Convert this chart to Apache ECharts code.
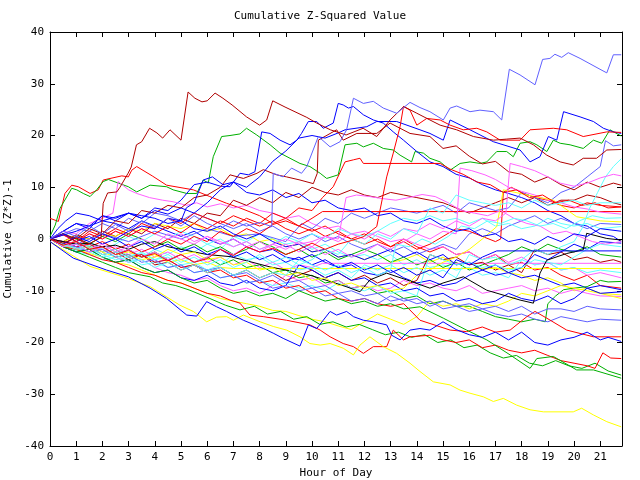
<!DOCTYPE html>
<html>
<head>
<meta charset="utf-8">
<script src="https://cdn.jsdelivr.net/npm/echarts@6/dist/echarts.min.js"></script>
<style>
  html, body { margin: 0; padding: 0; background: #fff; }
  .main { width: 640px; height: 480px; }
</style>
</head>
<body>
<div class="main"></div>
<script>
// hour of day, cumulative (z*z)-1 ; one array per sensor trace
var dr1 = [[0,0],[0.5,-0.8],[1,0.2],[1.5,-0.9],[1.95,0.3],[2.03,6.9],[2.2,8.9],[2.55,9.1],[2.67,10],[2.98,12.7],[3.1,13.9],[3.3,18.2],[3.5,18.8],[3.8,21.4],[4.08,20.5],[4.3,19.5],[4.58,21.1],[5.0,19.1],[5.27,28.4],[5.53,27.2],[5.8,26.5],[6.0,26.7],[6.3,28.2],[6.6,27.2],[6.95,25.9],[7.5,23.6],[8.0,22.0],[8.27,23.0],[8.5,26.7],[8.97,25.5],[9.8,23.5],[10.18,22.4],[10.7,21.1],[11.3,20.1],[11.95,21.4],[12.47,19.8],[12.98,23],[13.5,25.6],[14,24.3],[14.5,23],[14.89,22.0],[15.52,21.1],[16.16,19.8],[16.92,19.1],[17.43,19.3],[17.94,19.5],[18.45,18.2],[18.96,16.2],[19.47,14.9],[19.97,14.3],[20.35,15.6],[20.86,15.6],[21.25,17.2],[21.8,17.3]];
var dr2 = [[0,0],[0.5,1],[1,0],[1.5,2],[2,1],[2.5,3.5],[3,3],[3.5,5.5],[4,5],[4.5,6.5],[5,6],[5.5,8],[6,8.5],[6.5,10],[6.87,12.4],[7.38,11.7],[7.9,12.7],[8.14,13.4],[8.65,12.4],[9.03,12.0],[9.54,11.4],[10.05,10.7],[10.2,12.7],[10.24,19.1],[10.94,21.1],[11.19,19.1],[11.71,20.4],[12.47,20.4],[12.98,22.4],[13.74,20.4],[14.5,19.8],[15,17.5],[15.5,18],[16,16],[16.5,14.5],[17,15],[17.5,13],[18,12.5],[18.5,11],[19,12],[19.5,10.5],[20,9.5],[20.5,11],[21,10],[21.5,10.8],[21.8,10.4]];
var dr3 = [[0,0],[0.5,-0.5],[1,0.8],[1.5,0],[2,1.5],[2.5,0.5],[3,2],[3.5,1],[4,3],[4.5,2],[5,4],[5.5,3],[6,5],[6.5,4.5],[7,7.5],[7.5,6.5],[8,8],[8.5,7],[9,9],[9.5,8],[10,10],[10.5,9],[11,8.5],[11.5,9.5],[12,8.5],[12.5,8],[13,9],[13.5,8.5],[14,8],[14.5,7.5],[15,7],[15.5,6],[16,5],[16.5,6],[17,7],[17.5,8],[18,7],[18.5,8],[19,6.5],[19.5,7.5],[20,7.5],[20.5,8.5],[21,8],[21.5,7],[21.8,6.6]];
var dr4 = [[0,0],[0.5,-1],[1,-2],[1.5,-1.5],[2,-3],[2.5,-2.5],[3,-4],[3.5,-3],[4,-5],[4.5,-4.5],[5,-6],[5.5,-5],[6,-6.5],[6.5,-5.5],[7,-7],[7.5,-6],[8,-7.5],[8.5,-6.5],[9,-8],[9.5,-7],[10,-6],[10.5,-7.5],[11,-6.5],[11.5,-8],[12,-7],[12.5,-8.5],[13,-7.5],[13.5,-9],[14,-8],[14.5,-3],[15,-4],[15.5,-3.5],[16,-5],[16.5,-4.5],[17,-6],[17.5,-5],[18,-6.5],[18.5,-2],[19,-3],[19.5,-2.5],[20,-4],[20.5,-3.5],[21,-4.5],[21.5,-4],[21.8,-4.5]];
var red1 = [[0,4.0],[0.32,3.4],[0.57,8.8],[0.83,10.4],[1.08,10.1],[1.53,8.8],[1.84,9.5],[2.03,11.4],[2.74,12.2],[2.99,12.0],[3.12,13.3],[3.31,14.0],[3.9,12.2],[4.45,10.4],[5.47,9.5],[6.1,8.2],[6.74,6.9],[7.25,6],[8,4.5],[8.5,3],[9,4],[9.5,2.5],[10,1.5],[10.5,2.5],[11,1],[11.5,0],[12,1],[12.5,-0.5],[13,-1.5],[13.5,0],[14,-1.5],[14.5,-2.5],[15,-1.5],[15.5,-3],[16,-2.5],[16.5,-4],[17,-3],[17.5,-5],[18,-4.5],[18.5,-6],[19,-5.5],[19.5,-7],[20,-8],[20.5,-7],[21,-9],[21.8,-9.5]];
var red2 = [[0,0],[0.5,-1.2],[1,-0.5],[1.5,-2],[2,-1.5],[2.5,-3],[3,-2.2],[3.5,-3.5],[4,-2.8],[4.5,-4.2],[5,-3],[5.5,-4.5],[6,-3.8],[6.5,-2],[7,-3.2],[7.5,-1.5],[8,-2.5],[8.5,-1.8],[9,-3],[9.5,-2],[10,-0.8],[10.5,-2],[11,-1],[11.5,-0.3],[11.95,0.4],[12.47,2.4],[12.85,12.0],[13.1,16.6],[13.36,21.7],[13.49,25.6],[13.74,24.9],[14.0,22.0],[14.38,23.3],[14.89,23.0],[15.27,22.0],[15.77,21.1],[16.29,21.4],[16.67,20.7],[17.18,19.1],[17.94,19.1],[18.32,21.1],[19.21,21.4],[19.72,21.1],[20.35,19.8],[21.25,20.7],[21.8,20.6]];
var red3 = [[0,0],[0.5,0.8],[1,-0.5],[1.5,1],[2,0],[2.5,1.5],[3,0.5],[3.5,2],[4,1],[4.5,2.5],[5,1.2],[5.5,3],[6,2],[6.5,3.5],[7,2.5],[7.5,4],[8,3],[8.5,5],[9,4],[9.5,6],[10,5.5],[10.4,8],[10.81,10.1],[11.26,14.9],[11.58,15.3],[11.83,15.6],[11.96,14.6],[14.89,14.6],[15.27,13.5],[15.77,12.5],[16.3,11],[16.8,10.5],[17.3,9],[17.8,9.5],[18.3,8],[18.8,8.5],[19.3,7],[19.8,7.5],[20.3,6.5],[20.8,7],[21.3,6],[21.8,6.2]];
var red4 = [[0,0],[0.5,-1],[1,0.3],[1.5,-1.5],[2,-0.5],[2.5,-2],[3,-1],[3.5,-2.5],[4,-1.5],[4.5,0],[5,-1],[5.5,0.5],[6,-0.5],[6.5,1.5],[7,0.5],[7.5,2],[8,1],[8.5,2.8],[9,3.5],[9.5,2.5],[10,4],[10.4,5.3],[21.8,5.3]];
var red5 = [[0,0],[0.5,-0.5],[1,-1.5],[1.5,-1],[2,-2.5],[2.5,-2],[3,-3.5],[3.5,-3],[4,-4.5],[4.5,-4],[5,-5.5],[5.5,-5],[6,-6.5],[6.5,-6],[7,-7.5],[7.5,-7],[8,-8.5],[8.5,-8],[9,-9.5],[9.5,-9],[10,-10.5],[10.5,-10],[11,-11.5],[11.5,-12],[12,-11.5],[12.5,-12.5],[13,-13],[13.5,-12.5],[14.12,-15.7],[15.27,-17.6],[15.9,-17.9],[16.5,-17],[17,-18],[17.56,-17.6],[18.2,-15.0],[18.51,-14.0],[18.96,-15.3],[19.72,-17.6],[20.74,-18.9],[21.8,-18.9]];
var red6 = [[0,0],[0.5,1],[1,-0.5],[1.5,1.5],[2,0.5],[2.5,2],[3,1],[3.5,3],[4,2],[4.5,4],[5,3],[5.5,5],[6,4],[6.5,3],[7,4.5],[7.5,3.5],[8,2.5],[8.5,3.5],[9,2],[9.5,1],[10,2],[10.5,0.5],[11,1.5],[11.5,0],[12,-1],[12.5,0],[13,-1.5],[13.5,-0.5],[14,-2],[14.5,-1],[15,0.5],[15.5,2],[16,1.5],[16.5,0.5],[17,-0.5],[17.2,0],[17.3,9],[17.6,10],[18,9],[18.5,8],[19,7.5],[19.5,6.5],[20,6],[20.5,7],[21,6.5],[21.8,6.2]];
var redLow = [[0,0],[0.5,-1.5],[1,-2],[1.5,-3],[2,-4],[2.5,-4.5],[3,-5.5],[3.5,-6.5],[4,-7],[4.5,-8],[5,-8.5],[5.5,-9.5],[6,-10.5],[6.5,-11],[6.87,-11.8],[7.25,-12.4],[7.63,-14.7],[8.14,-15.0],[9.03,-15.7],[9.92,-16.6],[10.31,-17.6],[10.69,-18.9],[11.19,-20.2],[11.58,-20.8],[11.96,-22.1],[12.34,-20.8],[12.85,-20.8],[13.1,-17.6],[13.49,-19.5],[13.74,-18.9],[14.5,-18.6],[15,-19.5],[15.5,-20],[16,-19.5],[16.5,-21],[17,-20.5],[17.5,-21.5],[18,-22],[18.5,-21.5],[19,-22.5],[19.5,-23.5],[20,-24],[20.5,-24.5],[20.8,-25],[21.1,-22],[21.4,-23],[21.8,-23.1]];
var green1 = [[0,0.5],[0.2,2.7],[0.38,5.9],[0.83,9.8],[1.02,9.5],[1.27,8.8],[1.53,8.2],[1.78,9.5],[2.03,11.1],[2.23,11.5],[2.61,10.8],[2.99,10.1],[3.31,9.1],[3.82,10.4],[4.45,10.1],[4.7,9.5],[5.22,8.8],[5.6,8.8],[5.85,11.4],[6.04,10.8],[6.23,15.9],[6.55,19.8],[6.87,20.0],[7.25,20.3],[7.5,21.4],[7.89,20.1],[8.4,18.2],[8.78,16.6],[9.16,15.6],[9.54,14.6],[9.92,14.0],[10.31,12.7],[10.56,11.7],[11.0,12.4],[11.26,18.2],[11.71,18.5],[11.96,17.8],[12.34,18.5],[12.72,17.5],[13.1,17.2],[13.36,16.2],[13.8,14.9],[13.93,16.9],[14.25,16.6],[14.5,15.6],[14.89,14.9],[15.27,13.3],[15.65,14.6],[16.03,14.9],[16.41,14.6],[16.67,14.9],[17.05,16.9],[17.43,16.9],[17.68,15.9],[17.94,18.5],[18.32,18.8],[18.58,18.2],[18.96,16.9],[19.21,19.1],[19.47,18.5],[19.85,18.2],[20.35,17.5],[20.74,19.1],[21.06,18.5],[21.37,21.1],[21.8,19.9]];
var green2 = [[0,0],[0.5,-1],[1,-0.5],[1.5,-2],[2,-1.5],[2.5,-3],[3,-2],[3.5,-3.5],[4,-2.5],[4.5,-4],[5,-3],[5.5,-4.5],[6,-3.5],[6.5,-5],[7,-4],[7.5,-5.5],[8,-5],[8.5,-6.5],[9,-6],[9.5,-7.5],[10,-7],[10.5,-8.5],[11,-8],[11.5,-9.5],[12,-9],[12.5,-10.5],[13,-10],[13.5,-11.5],[14,-11],[14.5,-12.5],[15,-12],[15.5,-13],[16,-13],[16.5,-14],[17,-15],[17.5,-15.5],[18,-16],[18.5,-15.5],[18.9,-16],[19.0,-12.5],[19.3,-11],[19.6,-9.8],[20,-9.5],[20.5,-9.2],[21,-8],[21.3,-8.3],[21.8,-8.2]];
var green4 = [[0,0],[0.5,1],[1,0],[1.5,-1],[2,0.5],[2.5,-0.5],[3,1],[3.5,0],[4,-1.5],[4.5,-0.5],[5,-2],[5.5,-1],[6,-2.5],[6.5,-1.5],[7,-3],[7.5,-2],[8,-0.5],[8.5,-1.5],[9,-3],[9.5,-2],[10,-3.5],[10.5,-2.5],[11,-4],[11.5,-3],[12,-2],[12.5,-3],[13,-4.5],[13.5,-3.5],[14,-5],[14.5,-4],[15,-5.5],[15.5,-4.5],[16,-6],[16.5,-5],[17,-4],[17.5,-3],[18,-1.5],[18.5,-2.5],[19,-1],[19.5,-2],[20,-2.5],[20.5,-1.5],[21,-3],[21.8,-3.5]];
var greenLow1 = [[0,0],[0.5,-1.5],[1,-2.5],[1.5,-2],[2,-3.5],[2.5,-4.5],[3,-4],[3.5,-5.5],[4,-6.5],[4.5,-6],[5,-7.5],[5.5,-8.5],[6,-8],[6.5,-9.5],[7,-10.5],[7.5,-10],[8,-11],[8.5,-10.5],[9,-11.5],[9.5,-10],[10,-11],[10.5,-12],[11,-11.5],[11.5,-12.5],[12,-12],[12.5,-13],[13,-12.5],[13.5,-13.5],[14.12,-13.1],[15.01,-15.3],[15.9,-17.6],[16.67,-19.5],[17.56,-22.4],[18.32,-25.0],[18.58,-23.1],[19.21,-22.7],[20.1,-25.3],[20.74,-25.3],[21.8,-26.9]];
var greenLow2 = [[0,0],[0.5,-1.5],[1,-2.5],[1.5,-3.5],[2,-4.5],[2.5,-5.5],[3,-6.5],[3.82,-7.3],[4.3,-8.5],[4.8,-9],[5.34,-9.9],[6.1,-11.5],[6.7,-12.8],[7.25,-13.7],[7.8,-13],[8.3,-14.5],[8.8,-14],[9.3,-15.5],[9.8,-15],[10.3,-16.5],[10.8,-16],[11.3,-17],[11.8,-16.5],[12.3,-17.5],[12.8,-18.5],[13.3,-18],[13.8,-19],[14.3,-18.5],[14.8,-20],[15.3,-19.5],[15.8,-21],[16.3,-20.5],[16.8,-22],[17.3,-23],[17.8,-22.5],[18.3,-24],[18.8,-24.5],[19.3,-23.5],[19.8,-24.5],[20.3,-25],[20.8,-24],[21.3,-25.5],[21.8,-26.3]];
var blueD = [[0,0],[0.5,1.5],[1,3],[1.5,2],[2,4.5],[2.5,3.5],[3,5],[3.5,4],[4,6],[4.5,5.5],[5,7.5],[5.5,10.5],[6,11],[6.5,10.2],[6.87,10.1],[7.25,12.7],[7.57,12.4],[7.82,13.0],[8.08,20.7],[8.4,20.4],[8.78,19.1],[9.16,18.2],[9.42,19.1],[9.6,20.4],[9.86,22.7],[10.18,22.7],[10.43,21.4],[10.81,22.4],[11.0,26.2],[11.19,25.9],[11.39,25.3],[11.58,25.6],[11.96,24.0],[12.34,23.0],[12.72,22.4],[13.1,20.7],[13.49,19.1],[14.0,16.9],[14.5,14.9],[15,14],[15.5,12.5],[16,11.8],[16.5,10.5],[17,9.5],[17.5,8.8],[18,8],[18.5,7],[19,5.5],[19.5,4.5],[20,3],[20.5,2.5],[21,1],[21.5,0.5],[21.8,-0.5]];
var blue3 = [[0,0],[1,1.5],[2,3.5],[3,5],[3.5,4],[4,5.5],[4.5,4.8],[5,6],[5.5,5],[6,7],[6.5,9.5],[7,11],[7.5,10],[8,12],[8.5,15],[9,17],[9.5,19.5],[10,20],[10.5,19.5],[11,20.5],[11.26,21.1],[12.09,21.7],[12.47,22.7],[13.23,22.7],[14.12,21.1],[14.5,20.4],[15.01,19.1],[15.27,23.0],[16.03,21.1],[16.92,18.8],[17.94,17.2],[18.32,14.9],[18.7,15.9],[19.02,19.8],[19.34,19.1],[19.6,24.6],[20.23,23.6],[20.74,22.7],[21.12,21.4],[21.5,20.7],[21.8,20.4]];
var blue5 = [[0,0],[0.5,-1.5],[1,-2.5],[1.5,-2],[2,-3.5],[2.5,-4.5],[3,-4],[3.5,-5.5],[4,-6.5],[4.5,-6],[5,-7.5],[5.5,-8],[6,-7],[6.5,-8.5],[7,-9],[7.5,-8],[8,-9.5],[8.5,-10],[9,-9],[9.5,-5],[10,-6],[10.5,-7.5],[11,-6.5],[11.5,-8],[12,-7.5],[12.5,-9],[13,-8.5],[13.5,-10],[14,-9.5],[14.5,-11],[15,-10.5],[15.5,-12],[16,-11.5],[16.5,-12.5],[17,-12],[17.5,-10.5],[18,-11.5],[18.5,-12],[19,-11],[19.5,-12.5],[20,-11.5],[20.5,-9.5],[21,-10.5],[21.8,-10.2]];
var blue6 = [[0,0],[0.5,1.5],[1,3],[1.5,2.5],[2,4.5],[2.5,4],[3,5],[3.5,4.5],[4,4],[4.5,3],[5,3.5],[5.5,2],[6,1.5],[6.5,2.5],[7,1],[7.5,0],[8,1],[8.5,-0.5],[9,-1.5],[9.5,-1],[10,-2.5],[10.5,-2],[11,-3.5],[11.5,-3],[12,-4],[12.5,-3],[13,-2],[13.5,-3.5],[14,-2.5],[14.5,-4],[15,-3],[15.5,-5],[16,-4.5],[16.5,-6],[17,-5],[17.5,-6.5],[18,-5.5],[18.5,-3],[19,-4],[19.5,-2.5],[20,-1],[20.5,-2],[21,-0.5],[21.8,-0.8]];
var blue7 = [[0,0],[0.3,2],[0.6,3.5],[1,5],[1.5,4.5],[2,3.5],[2.5,3],[3,2],[3.5,3.5],[4,2.5],[4.5,1.5],[5,0.5],[5.5,1.5],[6,0],[6.5,-1],[7,0],[7.5,-1.5],[8,-2.5],[8.5,-2],[9,-3.5],[9.5,-4],[10,-3],[10.5,-4.5],[11,-5.5],[11.5,-5],[12,-6.5],[12.5,-7],[13,-6],[13.5,-7.5],[14,-8.5],[14.5,-8],[15,-9],[15.5,-8.5],[16,-7],[16.5,-6],[17,-7],[17.5,-6.5],[18,-7.5],[18.5,-7],[19,-8],[19.5,-9],[20,-8.5],[20.5,-9.5],[21,-9],[21.8,-9.8]];
var blue8 = [[0,0],[0.5,-1],[1,0.5],[1.5,-0.5],[2,1],[2.5,0],[3,1.5],[3.5,2.5],[4,2],[4.5,4],[5,3.5],[5.2,6],[5.5,7],[5.85,11.4],[6.2,12],[6.6,10.5],[7,11],[7.5,9],[8,8.5],[8.5,9.5],[9,8],[9.5,8.8],[10,7],[10.5,7.5],[11,6],[11.5,5.5],[12,6],[12.5,4.5],[13,5],[13.5,3.5],[14,3],[14.5,4],[15,2.5],[15.5,1.5],[16,2],[16.5,0.5],[17,1],[17.5,-0.5],[18,0],[18.5,-1],[19,0.5],[19.5,-0.5],[20,1],[20.5,0.5],[21,2],[21.8,1.5]];
var blueLow = [[0,-0.5],[0.89,-3.7],[2.16,-6.0],[2.99,-7.3],[3.82,-9.5],[4.45,-11.5],[5.22,-14.7],[5.6,-14.9],[5.98,-12.1],[6.36,-13.1],[6.74,-14.0],[7.38,-15.7],[8.14,-17.3],[8.52,-18.2],[8.9,-19.2],[9.54,-20.7],[9.86,-16.6],[10.18,-17.3],[10.69,-14.0],[10.94,-14.7],[11.32,-14.0],[11.58,-15.0],[11.96,-15.7],[12.34,-16.0],[12.85,-16.6],[13.04,-18.6],[13.36,-19.5],[13.74,-17.6],[14.12,-17.3],[14.5,-17.6],[15,-16],[15.5,-17.5],[16,-18.5],[16.5,-19],[17,-18],[17.5,-19.5],[18,-18],[18.5,-20],[19,-20.5],[19.5,-19.5],[20,-19],[20.5,-18],[21,-19.5],[21.3,-19],[21.8,-19.8]];
var blueFlat = [[0,0],[0.5,1],[1,-0.5],[1.5,0.5],[2,-1],[2.5,0],[3,-1.5],[3.5,-0.5],[4,-2],[4.5,-1],[5,-2.5],[5.5,-1.5],[6,-3],[6.5,-2],[7,-3.5],[7.5,-2.5],[8,-4],[8.5,-3],[9,-4.5],[9.5,-3.5],[10,-5],[10.5,-4],[11,-5.5],[11.5,-4.5],[12,-6],[12.5,-5],[13,-6.5],[13.5,-5.5],[14,-7],[14.5,-6],[15,-7.5],[15.5,-4],[16,-5],[16.5,-3.5],[17.05,-2.3],[21.8,-2.3]];
var slate1 = [[0,0],[0.5,1.5],[1,0.5],[1.5,2.5],[2,1],[2.5,2.8],[3,1.5],[3.5,3.5],[4,2.2],[4.5,4],[5,2.5],[5.5,4.5],[6,3],[6.5,2],[7,3.5],[7.5,2.5],[8,3.2],[8.46,2.4],[8.52,12.7],[8.9,12.0],[9.22,13.7],[9.6,12.7],[9.8,14.0],[10.24,19.8],[10.69,17.8],[11.07,18.8],[11.32,21.1],[11.58,27.2],[11.96,26.2],[12.34,26.6],[12.72,25.3],[13.23,24.3],[13.74,26.4],[14.12,25.4],[14.5,24.6],[15.01,23.0],[15.27,25.3],[15.52,25.7],[16.03,24.6],[16.41,24.9],[16.92,24.6],[17.24,23.0],[17.53,32.8],[17.94,31.7],[18.51,29.8],[18.8,34.7],[19.08,34.9],[19.27,35.7],[19.53,35.1],[19.78,36.0],[20.23,34.9],[20.99,32.8],[21.25,32.1],[21.5,35.6],[21.8,35.6]];
var slate2 = [[0,0],[1,-1],[2,1],[3,-0.5],[4,1.5],[5,0],[6,2],[7,0.5],[8,1],[9,-0.5],[9.6,3],[10,2],[10.5,4],[11,3],[11.5,5],[12,4],[13,6],[14,5],[15,6.5],[15.5,5],[16,7],[17,5.5],[17.5,6],[18,9],[18.5,8],[19,7],[19.5,9],[20,10],[20.5,12],[21,14],[21.2,19],[21.5,18],[21.8,18.2]];
var slate3 = [[0,0],[0.5,1],[1,2],[1.5,1.5],[2,3],[2.5,2],[3,4],[3.5,3],[4,5],[4.5,4.5],[5,3.5],[5.5,5],[6,4],[6.5,3],[7,2],[7.5,3],[8,1.5],[8.5,2.5],[9,1],[9.5,0],[10,1],[10.5,-0.5],[11,0.5],[11.5,-1],[12,-2],[12.5,-1],[13,-2.5],[13.5,-1.5],[14,-3],[14.5,-2],[15,-1],[15.5,-2],[16,1],[16.5,2],[17,1],[17.5,2.5],[18,3.5],[18.5,4.5],[19,3],[19.5,4],[20,3],[20.5,2],[21,3],[21.8,2.8]];
var slateLow1 = [[0,0],[0.5,-1],[1,-1.5],[1.5,-2.5],[2,-2],[2.5,-3.5],[3,-3],[3.5,-4.5],[4,-4],[4.5,-5.5],[5,-5],[5.5,-6.5],[6,-6],[6.5,-7.5],[7,-7],[7.5,-8.5],[8,-8],[8.5,-9.5],[9,-9],[9.5,-10],[10,-9.5],[10.5,-11],[11,-10.5],[11.5,-12],[12,-11.5],[12.5,-12.5],[13,-11],[13.5,-12],[14,-11.5],[14.5,-13],[15,-12],[15.5,-13],[16,-12.5],[16.5,-13.5],[17,-13],[17.5,-14],[18,-13],[18.5,-14.5],[19,-13.5],[19.5,-13.5],[20,-14],[20.5,-13],[21,-13.5],[21.8,-13.7]];
var slateLow2 = [[0,0],[0.5,-0.5],[1,-1.5],[1.5,-1],[2,-2.5],[2.5,-2],[3,-3.5],[3.5,-3],[4,-4.5],[4.5,-4],[5,-5.5],[5.5,-5],[6,-6],[6.5,-5.5],[7,-7],[7.5,-6.5],[8,-8],[8.5,-7],[9,-8.5],[9.5,-8],[10,-9.5],[10.5,-9],[11,-10.5],[11.5,-10],[12,-11],[12.5,-10.5],[13,-12],[13.5,-11.5],[14,-12.5],[14.5,-12],[15,-13.5],[15.5,-13],[16,-14],[16.5,-13.5],[17,-14.5],[17.5,-15],[18,-14.5],[18.5,-15.5],[19,-16],[19.5,-15],[20,-15.5],[20.5,-16],[21,-15.5],[21.8,-15.7]];
var magenta1 = [[0,0],[0.5,-1.5],[1,-1],[1.5,-2.5],[2,-1.5],[2.5,-3],[3,-2],[3.5,-3.5],[4,-2.5],[4.5,-4],[5,-3],[5.5,-4.5],[6,-3.5],[6.5,-2],[7,-3],[7.5,-1.5],[8,-2.5],[8.5,-1],[9,-2],[9.5,-0.5],[10,-1.5],[10.5,0.5],[11,-0.5],[11.5,1],[12,0],[12.5,1.5],[13,0.5],[13.5,2],[14,1.5],[14.5,3],[15,2],[15.5,3.5],[16,2.5],[16.5,4],[17,3.5],[17.4,5],[17.56,14.6],[18,14],[18.5,13.2],[19,12],[19.47,10.8],[20,10.2],[20.5,10.8],[21,11.8],[21.5,12.5],[21.8,12.2]];
var magenta2 = [[0,0],[0.5,-1],[1,-0.5],[1.5,-2],[2,-1],[2.5,-2.5],[3,-1.5],[3.5,0],[4,-1],[4.5,1],[5,0],[5.5,-1],[6,0.5],[6.5,-0.5],[7,-1.5],[7.5,-0.5],[8,-2],[8.5,-1],[9,0],[9.5,-1],[10,-0.5],[10.5,0.5],[11,0],[11.3,8],[11.7,8.5],[12.2,8.2],[12.7,7.8],[13.2,7.5],[13.7,8],[14.2,8.6],[14.7,8.2],[15.2,7],[15.7,5.5],[16.2,5],[16.7,4.5],[17.2,5.5],[17.7,4],[18.2,3],[18.7,2.5],[19.2,1],[19.7,1.5],[20.2,0.5],[20.7,-0.5],[21.2,-1],[21.8,-0.5]];
var magenta3 = [[0,0],[0.5,-1],[1,-1.8],[1.5,-2.5],[2,-2],[2.5,-3.5],[3,-4.5],[3.5,-4],[4,-5.5],[4.5,-6.5],[5,-7],[5.5,-8],[6,-7.5],[6.5,-9],[7,-10],[7.5,-9.5],[8,-10.5],[8.5,-9],[9,-7],[9.5,-8],[10,-7.5],[10.5,-9],[11,-8],[11.5,-9.5],[12,-9],[12.5,-10],[13,-9.5],[13.5,-8],[14,-9],[14.5,-8.5],[15,-9.5],[15.5,-10],[16,-9],[16.5,-10.5],[17,-10],[17.5,-9.5],[18,-9],[18.5,-10],[19,-9.5],[19.5,-10.5],[20,-9.8],[20.5,-10.5],[21,-11],[21.8,-11.1]];
var magenta4 = [[0,0],[0.5,1.5],[1,1],[1.5,3],[2,4],[2.4,5],[2.6,11.1],[3.0,9.5],[3.31,8.8],[3.8,8],[4.3,7.5],[4.7,7.2],[5.2,6.5],[5.6,7],[6,6.2],[6.5,6.8],[7,6],[7.5,6.5],[8,5.5],[8.5,5],[9,4],[9.5,4.5],[10,3],[10.5,2],[11,2.5],[11.5,1],[12,1.5],[12.5,0.5],[13,-0.5],[13.5,0],[14,-1],[14.5,-2],[15,-1.5],[15.5,-3],[16,-2.5],[16.5,-4],[17,-3],[17.5,-4.5],[18,-3.5],[18.5,-5],[19,-4.5],[19.5,-6],[20,-5.5],[20.5,-7],[21,-6.5],[21.8,-7.5]];
var magenta6 = [[0,0],[0.5,0.8],[1,-0.5],[1.5,1],[2,0],[2.5,1.5],[3,0.5],[3.5,2],[4,1],[4.5,0],[5,1],[5.5,-0.5],[6,0.5],[6.5,-1],[7,0],[7.5,-1.5],[8,-0.5],[8.5,-2],[9,-1],[9.5,-2.5],[10,-1.5],[10.5,-3],[11,-2],[11.5,-3.5],[12,-2.5],[12.5,-1],[13,-2],[13.5,-0.5],[14,1],[14.5,0],[15,1.5],[15.5,1],[15.65,13.7],[16.1,13.2],[16.6,12.4],[17,11.5],[17.5,10],[18,9.2],[18.5,8.5],[19,7.5],[19.5,7],[20,6.2],[20.5,5.8],[21,5.2],[21.8,4.8]];
var magentaFlat = [[0,0],[0.5,-0.5],[1,-1.5],[1.5,-1],[2,-2],[2.5,-1.5],[3,-3],[3.5,-2],[4,-3.5],[4.5,-2.5],[5,-4],[5.5,-3],[6,-4.5],[6.5,-3.5],[7,-5],[7.5,-4],[8,-5.5],[8.5,-4.5],[9,-6],[9.5,-5],[10,-5.5],[10.4,-4.7],[21.8,-4.7]];
var cyan1 = [[0,0],[0.5,-1],[1,-2],[1.5,-1.5],[2,-3],[2.5,-2.5],[3,-3.5],[3.5,-2.5],[4,-4],[4.5,-3],[5,-4.5],[5.5,-3.5],[6,-5],[6.5,-4],[7,-5.5],[7.5,-4.5],[8,-3],[8.5,-4.5],[9,-3.5],[9.5,-5],[10,-4],[10.5,-2],[11,-3],[11.5,0],[12,-1],[12.5,1],[13,0],[13.5,2],[14,1],[14.5,6],[15,5],[15.5,8.5],[16,7.5],[16.5,7],[17,6.5],[17.5,7],[18,6],[18.5,7.5],[19,6.5],[19.5,7],[20,7.5],[20.5,6.5],[21,7],[21.8,7.0]];
var cyan2 = [[0,0],[0.5,-1.5],[1,-1],[1.5,-2.5],[2,-3.5],[2.5,-3],[3,-4.5],[3.5,-4],[4,-5.5],[4.5,-4.5],[5,-6],[5.5,-5],[6,-6.5],[6.5,-5.5],[7,-7],[7.5,-6],[8,-7.5],[8.5,-6.5],[9,-7],[9.5,-4],[10,-5],[10.5,-6],[11,-5],[11.5,-6.5],[12,-5.5],[12.5,-7],[13,-6],[13.2,-1],[13.7,-1.5],[14.2,0],[14.7,-1],[15.2,0.5],[15.7,2.5],[16.2,2],[16.7,3.5],[17.2,3],[17.7,4],[18.2,3.5],[18.7,2.5],[19.2,3],[19.7,2],[20.2,3.5],[20.7,4.5],[21.2,4],[21.8,4.1]];
var cyan3 = [[0,0],[0.5,-0.8],[1,-1.8],[1.5,-1.2],[2,-2.5],[2.5,-2],[3,-3.2],[3.5,-2.8],[4,-4],[4.5,-3.5],[5,-5],[5.5,-4.5],[6,-6],[6.5,-5],[7,-3],[7.5,-4],[8,-3.5],[8.5,-5],[9,-4.5],[9.5,-6],[10,-5.5],[10.5,-7],[11,-6],[11.5,-7.5],[12,-5],[12.5,-6],[13,-5],[13.5,-6.5],[14,-5.5],[14.5,-7],[15,-6],[15.5,-7.5],[16,-3],[16.5,-4],[17,-3.5],[17.5,-5],[18,-4],[18.5,-2],[19,-3],[19.5,-1.5],[20,-0.5],[20.3,2],[20.6,6],[20.9,9],[21.2,12],[21.5,14],[21.8,15.5]];
var cyan4 = [[0,0],[0.5,-1.2],[1,-2.2],[1.5,-2],[2,-3],[2.5,-4],[3,-3.5],[3.5,-5],[4,-4.5],[4.5,-5.5],[5,-5],[5.5,-6.5],[6,-6],[6.5,-7.5],[7,-7],[7.5,-8.5],[8,-8],[8.5,-9],[9,-8.5],[9.5,-9.5],[10,-9],[10.5,-10],[11,-8.5],[11.5,-9.5],[12,-10],[12.5,-9],[13,-10.5],[13.5,-10],[14,-11],[14.5,-3],[15,-4],[15.5,-5],[16,-4.5],[16.5,-5.5],[17,-5],[17.5,-6],[18,-5.5],[18.5,-4],[19,-4.5],[19.5,-5],[20,-3.5],[20.5,-2],[21,-1],[21.8,-1.5]];
var cyan5 = [[0,0],[0.5,-0.5],[1,-1.5],[1.5,-0.5],[2,-2],[2.5,-1],[3,0.5],[3.5,-0.5],[4,1],[4.5,0],[5,1.5],[5.5,0.5],[6,-1],[6.5,0],[7,-1.5],[7.5,-0.5],[8,-2],[8.5,-1],[9,0.5],[9.5,-0.5],[10,1],[10.5,0],[11,2],[11.5,1],[12,0.5],[12.5,1.5],[13,3],[13.5,4],[14,3.5],[14.5,4.5],[15,3.5],[15.5,4],[16,3],[16.5,4],[17,2.5],[17.5,3],[18,2],[18.5,2.5],[19,4],[19.5,3],[20,2.5],[20.5,3],[21,2],[21.8,2.4]];
var cyan6 = [[0,0],[0.5,-1],[1,-2.5],[1.5,-3],[2,-4],[2.5,-3.5],[3,-4.5],[3.5,-3.5],[4,-2],[4.5,-3],[5,-1.5],[5.5,-2.5],[6,-1],[6.5,-2],[7,0.5],[7.5,-0.5],[8,1],[8.5,0],[9,-1],[9.5,-0.5],[10,-2],[10.5,-1],[11,-2.5],[11.5,-3.5],[12,-3],[12.5,-4],[13,-3],[13.5,-5],[14,-4],[14.5,-5.5],[15,-5],[15.5,-6],[16,-5.5],[16.5,-7],[17,-6.5],[17.5,-7.5],[18,-4],[18.5,-5],[19,-4.5],[19.5,-6],[20,-5.5],[20.5,-6.5],[21,-6],[21.8,-6.5]];
var yellowLow1 = [[0,-0.5],[1.53,-5.3],[2.8,-7.3],[3.82,-9.2],[4.96,-12.8],[5.47,-14.0],[5.98,-16.0],[6.36,-15.1],[6.74,-15.0],[7.0,-15.7],[7.38,-14.7],[8.02,-16.0],[8.52,-16.9],[9.03,-17.6],[9.54,-18.9],[9.92,-20.2],[10.31,-20.5],[10.69,-20.2],[11.19,-21.1],[11.58,-22.4],[11.83,-20.5],[12.21,-18.9],[12.72,-20.8],[13.23,-22.1],[13.74,-24.0],[14.12,-25.6],[14.63,-27.6],[15.27,-28.2],[15.65,-29.2],[16.03,-29.8],[16.54,-30.5],[16.92,-31.4],[17.3,-30.8],[17.81,-32.1],[18.32,-33.0],[18.83,-33.4],[19.97,-33.4],[20.29,-32.7],[20.74,-34.0],[21.25,-35.3],[21.8,-36.3]];
var yellowLow2 = [[0,0],[0.5,-1.2],[1,-2],[1.5,-2.8],[2,-3.5],[2.5,-4.5],[3,-5],[3.5,-6],[4,-7],[4.5,-8],[5,-8.5],[5.5,-9.5],[6,-10.5],[6.5,-11.5],[7,-12],[7.5,-12.5],[8,-13],[8.5,-13.8],[9,-14],[9.5,-14.8],[10,-15.5],[10.5,-16],[11,-16.8],[11.5,-17.5],[12,-16],[12.5,-14.5],[13,-15.5],[13.5,-16.5],[14,-15],[14.5,-12],[15,-13],[15.5,-12.5],[16,-13.5],[16.5,-12.5],[17,-13],[17.5,-12],[18,-10.5],[18.5,-11],[19,-10],[19.5,-9],[20,-9.5],[20.5,-10],[21,-10.5],[21.8,-11.5]];
var yellow3 = [[0,0],[0.5,-1],[1,-2],[1.5,-1.5],[2,-2.5],[2.5,-3.5],[3,-3],[3.5,-4],[4,-3.5],[4.5,-2],[5,-3],[5.5,-2.5],[6,-4],[6.5,-3.5],[7,-5],[7.5,-4.5],[8,-6],[8.5,-5.5],[9,-7],[9.5,-6.5],[10,-8],[10.5,-7.5],[11,-9],[11.5,-8.5],[12,-9.5],[12.5,-9],[13,-10],[13.5,-9.5],[14,-7],[14.5,-6],[15,-4.5],[15.5,-3.5],[16,-2],[16.5,0],[17.05,2.4],[17.3,9.5],[17.94,8.8],[18.5,8.2],[19.21,7.5],[20.1,4.3],[21,3.5],[21.8,3.3]];
var yellow4 = [[0,0],[0.5,-0.5],[1,0.5],[1.5,0],[2,1],[2.5,0.5],[3,2],[3.5,1.5],[4,3],[4.5,2.5],[5,2],[5.5,3],[6,1.5],[6.5,2],[7,0.5],[7.5,1],[8,-0.5],[8.5,0],[9,-1.5],[9.5,-1],[10,-2.5],[10.5,-2],[11,-3.5],[11.5,-3],[12,-4],[12.5,-3],[13,-4.5],[13.5,-4],[14,-3],[14.5,-4.5],[15,-3.5],[15.5,-5],[16,-4.5],[16.5,-6],[17,-5.5],[17.5,-6.5],[18,-7],[18.5,-8],[19,-7.5],[19.5,-8.5],[20,-10],[20.5,-9.5],[21,-10.5],[21.8,-10.8]];
var yellowFlat = [[0,0],[0.5,-1],[1,-0.5],[1.5,-2],[2,-1.5],[2.5,-3],[3,-2.5],[3.5,-3.5],[4,-3],[4.5,-4.5],[5,-4],[5.5,-5],[6,-4.5],[6.5,-5.5],[7,-5.7],[21.8,-5.7]];
var black1 = [[0,0],[0.5,-0.5],[1,-1],[1.5,-0.8],[2,-1.5],[2.5,-1.2],[3,-2],[3.5,-1],[4,-0.5],[4.5,-1.5],[5,-2],[5.5,-2.5],[6,-3],[6.87,-3.4],[7.5,-4.2],[8.4,-5.4],[9.2,-6.2],[9.92,-7.0],[10.69,-8.2],[11.3,-9.2],[11.83,-10.2],[12.21,-7.9],[12.85,-6.6],[13.61,-7.9],[14.5,-9.5],[15,-8.5],[15.78,-7.3],[16.67,-9.9],[17.94,-11.8],[18.45,-12.4],[18.7,-6.6],[18.96,-4.1],[19.72,-2.8],[20.35,-2.1],[20.48,1.1],[21.25,0.1],[21.8,-0.2]];

var RED = '#ff0000', DRED = '#b00000', GREEN = '#00b000', BLUE = '#0000ff',
    SLATE = '#6060ff', MAG = '#ff60ff', CYAN = '#60ffff', YEL = '#ffff00', BLK = '#000000';

var traces = [
  [red1, RED], [green1, GREEN], [blueD, BLUE], [magenta4, MAG], [cyan6, CYAN], [dr3, DRED],
  [yellow4, YEL], [slate3, SLATE], [red6, RED], [green4, GREEN], [blue7, BLUE], [magentaFlat, MAG],
  [cyan5, CYAN], [dr4, DRED], [yellowFlat, YEL], [slate2, SLATE], [red4, RED], [green2, GREEN],
  [blue6, BLUE], [magenta3, MAG], [cyan4, CYAN], [dr2, DRED], [yellowLow2, YEL], [slateLow2, SLATE],
  [red5, RED], [greenLow2, GREEN], [blue5, BLUE], [magenta6, MAG], [cyan3, CYAN], [black1, BLK],
  [yellow3, YEL], [slateLow1, SLATE], [redLow, RED], [greenLow1, GREEN], [blueFlat, BLUE], [magenta2, MAG],
  [cyan2, CYAN], [yellowLow1, YEL], [red3, RED], [blue8, BLUE], [magenta1, MAG], [cyan1, CYAN],
  [blueLow, BLUE], [blue3, BLUE], [red2, RED], [dr1, DRED], [slate1, SLATE]
];

var font = '"DejaVu Sans Mono", monospace';

var myChart = echarts.init(document.querySelector('.main'), null, { renderer: 'canvas' });
myChart.setOption({
  animation: false,
  backgroundColor: '#fff',
  title: {
    text: 'Cumulative Z-Squared Value',
    left: 'center',
    top: 6,
    textStyle: { fontFamily: font, fontSize: 11, fontWeight: 'normal', color: '#000' }
  },
  grid: { left: 50, right: 18, top: 32, bottom: 34, outerBoundsMode: 'none', containLabel: false },
  xAxis: [
    {
      type: 'value', min: 0, max: 21.83, interval: 1,
      name: 'Hour of Day', nameLocation: 'middle', nameGap: 21,
      nameTextStyle: { fontFamily: font, fontSize: 11, color: '#000' },
      axisLine: { onZero: false, lineStyle: { color: '#000', width: 1 } },
      axisTick: { inside: true, length: 5, lineStyle: { color: '#000' } },
      axisLabel: {
        fontFamily: font, fontSize: 11, color: '#000', margin: 6,
        formatter: function (v) { return Number.isInteger(v) ? String(v) : ''; }
      },
      splitLine: { show: false }
    },
    {
      type: 'value', min: 0, max: 21.83, interval: 1, position: 'top',
      axisLine: { onZero: false, lineStyle: { color: '#000', width: 1 } },
      axisTick: { inside: true, length: 5, lineStyle: { color: '#000' } },
      axisLabel: { show: false },
      splitLine: { show: false }
    }
  ],
  yAxis: [
    {
      type: 'value', min: -40, max: 40, interval: 10,
      name: 'Cumulative (Z*Z)-1', nameLocation: 'middle', nameGap: 35, nameRotate: 90,
      nameTextStyle: { fontFamily: font, fontSize: 11, color: '#000' },
      axisLine: { show: true, onZero: false, lineStyle: { color: '#000', width: 1 } },
      axisTick: { show: true, inside: true, length: 5, lineStyle: { color: '#000' } },
      axisLabel: { fontFamily: font, fontSize: 11, color: '#000', margin: 6 },
      splitLine: { show: false }
    },
    {
      type: 'value', min: -40, max: 40, interval: 10, position: 'right',
      axisLine: { show: true, onZero: false, lineStyle: { color: '#000', width: 1 } },
      axisTick: { show: true, inside: true, length: 5, lineStyle: { color: '#000' } },
      axisLabel: { show: false },
      splitLine: { show: false }
    }
  ],
  series: traces.map(function (t) {
    return {
      type: 'line',
      data: t[0],
      showSymbol: false,
      silent: true,
      clip: true,
      color: t[1],
      lineStyle: { color: t[1], width: 1 }
    };
  })
});
</script>
</body>
</html>
